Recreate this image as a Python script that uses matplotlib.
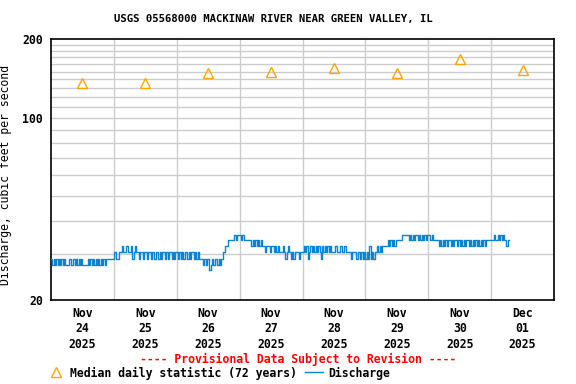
import numpy as np
import matplotlib
matplotlib.use("Agg")
import matplotlib.pyplot as plt
from matplotlib.lines import Line2D

plt.rcParams['font.family'] = ['DejaVu Sans Mono']
plt.rcParams['font.weight'] = 'bold'

title = "USGS 05568000 MACKINAW RIVER NEAR GREEN VALLEY, IL"

# x axis: days since Nov 24 2025 00:00
day_labels = ["Nov\n24\n2025", "Nov\n25\n2025", "Nov\n26\n2025", "Nov\n27\n2025",
              "Nov\n28\n2025", "Nov\n29\n2025", "Nov\n30\n2025", "Dec\n01\n2025"]

# median daily statistic (72 years), one per day, plotted at noon
median_cfs = [135.3, 135.3, 147.8, 150.1, 154.4, 148.8, 167.2, 151.5]

# discharge levels seen in the reading (cfs)
levels = [26.1, 27.2, 28.8, 30.5, 32.2, 33.9, 35.6]

# 30-minute discharge readings, coded as index into levels, one string per day
q_codes = [
    "21212121 21211121 12121212 11112121 21212121 21222222",  # Nov 24
    "33223343 34433423 43323323 32332332 33232332 32332323",  # Nov 25
    "32323233 23233232 32221212 20121221 21233445 55556566",  # Nov 26
    "65655555 54545454 54434443 44343433 34323432 32333233",  # Nov 27
    "34342343 43434324 34343433 34333433 43333233 32332323",  # Nov 28
    "23242323 34343444 45454545 55556666 65656566 56565656",  # Nov 29
    "65565555 45454545 54545545 45454554 54545454 54545555",  # Nov 30
    "55655656 5654455",                                       # Dec 01
]

t = []
q = []
for d, s in enumerate(q_codes):
    codes = s.replace(" ", "")
    for k, c in enumerate(codes):
        t.append(d + k / 48)
        q.append(levels[int(c)])

fig = plt.figure(figsize=(5.76, 3.84), dpi=100)
ax = fig.add_axes([51/576, 1 - 300/384, 503/576, 261/384])

ax.set_yscale('log')
ax.set_ylim(20, 200)
ax.set_xlim(0, 8)

# grid
for v in list(range(30, 100, 10)) + list(range(100, 200, 10)):
    ax.axhline(v, color='#cccccc', lw=1, zorder=0)
for d in range(1, 8):
    ax.axvline(d, color='#cccccc', lw=1, zorder=0)

ax.plot(t, q, drawstyle='steps-post', color='#0a84d0', lw=1, zorder=3)
days = np.arange(len(median_cfs)) + 0.5
ax.plot(days, median_cfs, linestyle='none', marker='^', ms=7, mfc='none',
        mec='#ffa500', mew=1, zorder=4)

ax.set_yticks([20, 100, 200])
ax.set_yticklabels(["20", "100", "200"])
ax.yaxis.set_minor_locator(matplotlib.ticker.NullLocator())
ax.set_xticks(days)
ax.set_xticklabels(day_labels, linespacing=1.25)
ax.tick_params(length=0, labelsize=8.3)
ax.tick_params(axis='y', pad=6)
ax.tick_params(axis='x', pad=5)
for sp in ax.spines.values():
    sp.set_linewidth(1.2)

ax.set_ylabel("Discharge, cubic feet per second", fontsize=8.3)
ax.yaxis.set_label_coords(-39/503, 0.48)

fig.text(0.474, 1 - 19/384, title, ha='center', va='center', fontsize=7.7)
fig.text(298/576, 1 - 359/384, "---- Provisional Data Subject to Revision ----",
         ha='center', va='center', color='red', fontsize=8.3)

# legend
fig.add_artist(Line2D([56/576], [1 - 372/384], marker='^', ms=7, mfc='none',
                      mec='#ffa500', mew=1, transform=fig.transFigure))
fig.text(70/576, 1 - 373/384, "Median daily statistic (72 years)",
         ha='left', va='center', fontsize=8.3)
fig.add_artist(Line2D([305/576, 323/576], [1 - 372/384, 1 - 372/384],
                      color='#0a84d0', lw=1, transform=fig.transFigure))
fig.text(328/576, 1 - 373/384, "Discharge", ha='left', va='center', fontsize=8.3)

fig.savefig("out.png", dpi=100)
